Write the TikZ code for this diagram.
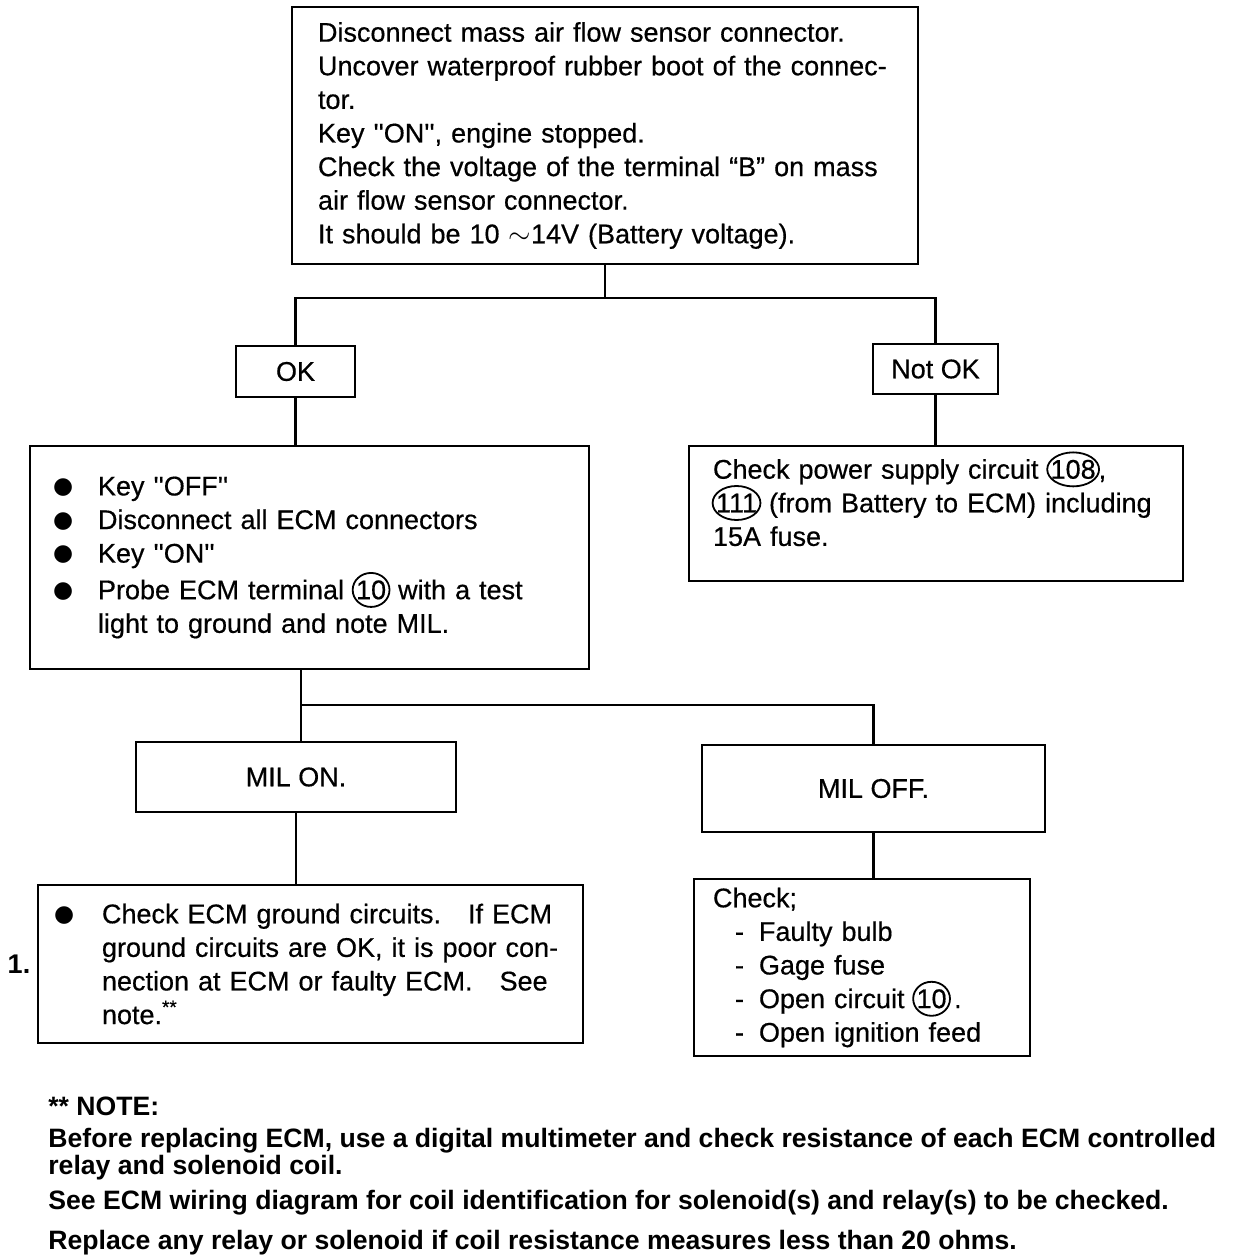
\documentclass[tikz,border=0pt]{standalone}
\usepackage{fontspec}
\setmainfont{Liberation Sans}
\newfontfamily\boxfont{Liberation Sans}[FakeBold=0.5]
\newfontfamily\symfont{DejaVu Sans}
\usetikzlibrary{calc}

% circled terminal number
\newcommand{\circnum}[1]{\hspace{1.5pt}\tikz[baseline=(cn.base)]{\node[inner sep=0pt, minimum width=0pt, minimum height=0pt] (cn) {#1};
  \draw[line width=0.9pt, overlay] let \p1=($(cn.east)-(cn.west)$) in
    (cn.center) ellipse [x radius=0.5*\x1+1.5pt, y radius=8.5pt];}\hspace{1.5pt}}
\newcommand{\bul}[1]{\makebox[#1][l]{\raisebox{1pt}{\symfont\fontsize{11.5}{10}\selectfont ●}}}
\newcommand{\dsh}{\hspace*{11pt}\makebox[12pt][l]{-}}

\begin{document}
\begin{tikzpicture}[x=0.5pt, y=-0.5pt,
    box/.style={draw, line width=1.4pt, align=left, inner xsep=#1, inner ysep=0pt,
                font=\boxfont\fontsize{13.5}{16.8}\selectfont},
    tag/.style={draw, line width=1.4pt, align=center, inner sep=0pt,
                font=\boxfont\fontsize{13.5}{16.8}\selectfont},
    link/.style={line width=1.4pt}]
  \useasboundingbox (0,0) rectangle (1232,1256);

  % first check
  \node[box=13pt, text width=287pt, minimum height=128.5pt] (mafs) at (605,135.5)
    {Disconnect mass air flow sensor connector.\\
     Uncover waterproof rubber boot of the connec-\\
     tor.\\
     Key ''ON'', engine stopped.\\
     Check the voltage of the terminal “B” on mass\\
     air flow sensor connector.\\
     It should be 10 $\sim$14V (Battery voltage).};

  \node[tag, minimum width=59.5pt, minimum height=25.5pt] (ok) at (295.5,371.5) {OK};
  \node[tag, minimum width=62.5pt, minimum height=25pt] (nok) at (935.5,369) {Not OK};

  \node[box=11.5pt, text width=256.5pt, minimum height=111.5pt] (ecm) at (309.5,557.5)
    {\bul{22.5pt}Key ''OFF''\\
     \bul{22.5pt}Disconnect all ECM connectors\\
     \bul{22.5pt}Key ''ON''\\[1.5pt]
     \bul{22.5pt}\makebox[225pt][s]{Probe ECM terminal \circnum{10} with a test}\\
     \hspace*{22.5pt}light to ground and note MIL.};

  \node[box=12pt, text width=223pt, minimum height=67.5pt] (supply) at (936,513.5)
    {\makebox[222.5pt][s]{Check power supply circuit \circnum{108},}\\
     \circnum{111} (from Battery to ECM) including\\
     15A fuse.\rule[-11pt]{0pt}{0pt}};

  \node[tag, minimum width=160pt, minimum height=35pt] (mon) at (296,777) {MIL ON.};
  \node[tag, minimum width=171.5pt, minimum height=43.5pt] (moff) at (873.5,788.5) {MIL OFF.};

  \node[box=8pt, text width=256.5pt, minimum height=79pt] (ground) at (310.5,964)
    {\bul{24pt}\makebox[225.5pt][s]{Check ECM ground circuits.\quad If ECM}\\
     \hspace*{24pt}\makebox[225.5pt][s]{ground circuits are OK, it is poor con-}\\
     \hspace*{24pt}\makebox[225.5pt][s]{nection at ECM or faulty ECM.\quad See}\\
     \hspace*{24pt}note.\textsuperscript{**}};
  \node[font=\bfseries\fontsize{13.5}{16}\selectfont] (one) at (19,964) {1.};

  \node[box=9.5pt, text width=149pt, minimum height=88.5pt] (check) at (862,967.5)
    {Check;\\
     \dsh Faulty bulb\\
     \dsh Gage fuse\\
     \dsh Open circuit \circnum{10}\,.\\
     \dsh Open ignition feed};

  % note
  \node[anchor=north west, align=left, inner sep=0pt,
        font=\bfseries\fontsize{13.3}{12.4}\selectfont] (note) at (48,1097)
    {** NOTE:\\[3.5pt]
     Before replacing ECM, use a digital multimeter and check resistance of each ECM controlled\\
     relay and solenoid coil.\\[5pt]
     See ECM wiring diagram for coil identification for solenoid(s) and relay(s) to be checked.\\[6.5pt]
     Replace any relay or solenoid if coil resistance measures less than 20 ohms.};

  % connectors
  \coordinate (jA) at (605,298);
  \coordinate (jB) at (301,705);
  \draw[link] (mafs.south) -- (jA);
  \draw[link] (ok.north) |- (jA) -| (nok.north);
  \draw[link] (ok.south) -- (ok.south |- ecm.north);
  \draw[link] (nok.south) -- (nok.south |- supply.north);
  \draw[link] (jB |- ecm.south) -- (jB |- mon.north);
  \draw[link] (jB) -| (moff.north);
  \draw[link] (mon.south) -- (mon.south |- ground.north);
  \draw[link] (moff.south) -- (moff.south |- check.north);
\end{tikzpicture}
\end{document}
